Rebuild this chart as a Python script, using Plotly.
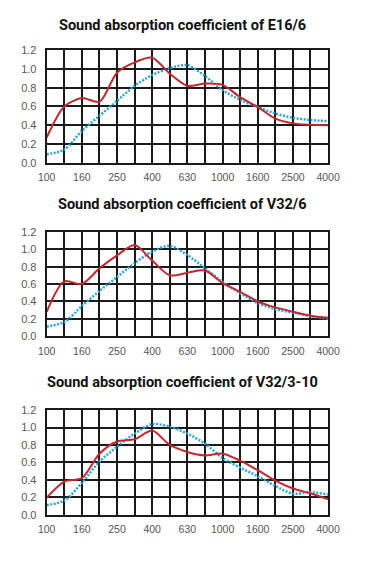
import plotly.graph_objects as go

freq_labels = ["100", "125", "160", "200", "250", "315", "400", "500", "630",
               "800", "1000", "1250", "1600", "2000", "2500", "3150", "4000"]
shown_labels = ["100", "160", "250", "400", "630", "1000", "1600", "2500", "4000"]

titles = ["Sound absorption coefficient of E16/6",
          "Sound absorption coefficient of V32/6",
          "Sound absorption coefficient of V32/3-10"]

red_e16 = [0.27, 0.60, 0.69, 0.65, 0.96, 1.07, 1.12, 0.95, 0.82, 0.845, 0.83, 0.70, 0.595, 0.47, 0.42, 0.405, 0.40]
blue_e16 = [0.09, 0.14, 0.34, 0.50, 0.66, 0.82, 0.935, 1.01, 1.04, 0.925, 0.775, 0.67, 0.595, 0.525, 0.48, 0.455, 0.445]

red_v32_6 = [0.28, 0.63, 0.60, 0.78, 0.93, 1.05, 0.87, 0.70, 0.73, 0.755, 0.61, 0.51, 0.40, 0.33, 0.28, 0.235, 0.21]
blue_v32_6 = [0.11, 0.16, 0.345, 0.52, 0.68, 0.84, 0.975, 1.04, 0.935, 0.78, 0.625, 0.495, 0.38, 0.31, 0.27, 0.23, 0.20]

red_v32_3 = [0.195, 0.38, 0.42, 0.70, 0.84, 0.865, 0.965, 0.80, 0.72, 0.68, 0.70, 0.62, 0.51, 0.39, 0.30, 0.245, 0.175]
blue_v32_3 = [0.11, 0.16, 0.365, 0.61, 0.78, 0.93, 1.04, 1.01, 0.93, 0.815, 0.65, 0.54, 0.44, 0.33, 0.24, 0.26, 0.23]

series = [(red_e16, blue_e16), (red_v32_6, blue_v32_6), (red_v32_3, blue_v32_3)]

# page body has an 8px margin; keep the figure inside the 382x582 window
OFF = 8
W, H = 382 - 2 * OFF, 582 - 2 * OFF
x0_px, x1_px = 39.5 - OFF, 338 - OFF
plot_px = [(45 - OFF, 160 - OFF), (230.7 - OFF, 337 - OFF), (412.7 - OFF, 519.5 - OFF)]
title_px = [20 - OFF, 203 - OFF, 384 - OFF]
title_cx = 183.5 - OFF

RED = "#c1282d"
BLUE = "#2aa3d6"

fig = go.Figure()
idx = list(range(len(freq_labels)))
ticktext = [lab if lab in shown_labels else "" for lab in freq_labels]

layout = dict(
    width=W, height=H,
    margin=dict(l=0, r=0, t=0, b=0),
    paper_bgcolor="white", plot_bgcolor="white",
    showlegend=False,
    annotations=[],
)

for i, (red, blue) in enumerate(series):
    n = "" if i == 0 else str(i + 1)
    xa, ya = "x" + n, "y" + n
    fig.add_trace(go.Scatter(x=idx, y=blue, mode="lines", xaxis=xa, yaxis=ya,
                             line=dict(color=BLUE, width=2.5, dash="2px,1.5px", shape="spline", smoothing=0.8),
                             cliponaxis=True))
    fig.add_trace(go.Scatter(x=idx, y=red, mode="lines", xaxis=xa, yaxis=ya,
                             line=dict(color=RED, width=2, shape="spline", smoothing=0.8),
                             cliponaxis=True))
    top, bot = plot_px[i]
    layout["xaxis" + n] = dict(
        domain=[x0_px / W, x1_px / W], anchor=ya, range=[0, 16],
        tickvals=idx, ticktext=ticktext, ticks="", ticklabelstandoff=4,
        showgrid=True, gridcolor="#1a1a1a", gridwidth=2,
        showline=True, linecolor="#1a1a1a", linewidth=2, mirror=True,
        zeroline=False, fixedrange=True,
        tickfont=dict(family="Liberation Sans", size=10.5, color="#555555"),
    )
    layout["yaxis" + n] = dict(
        domain=[1 - bot / H, 1 - top / H], anchor=xa, range=[0, 1.2],
        tickvals=[0, 0.2, 0.4, 0.6, 0.8, 1.0, 1.2], tickformat=".1f",
        ticks="", ticklabelstandoff=6,
        showgrid=True, gridcolor="#1a1a1a", gridwidth=2,
        showline=True, linecolor="#1a1a1a", linewidth=2, mirror=True,
        zeroline=False, fixedrange=True,
        tickfont=dict(family="Liberation Sans", size=11, color="#555555"),
    )
    layout["annotations"].append(dict(
        text="<b>" + titles[i] + "</b>", xref="paper", yref="paper",
        x=title_cx / W, y=1 - title_px[i] / H, xanchor="center", yanchor="middle",
        showarrow=False,
        font=dict(family="Roboto", size=14.5, color="#111111"),
    ))

fig.update_layout(**layout)
fig.write_html("out.html")
